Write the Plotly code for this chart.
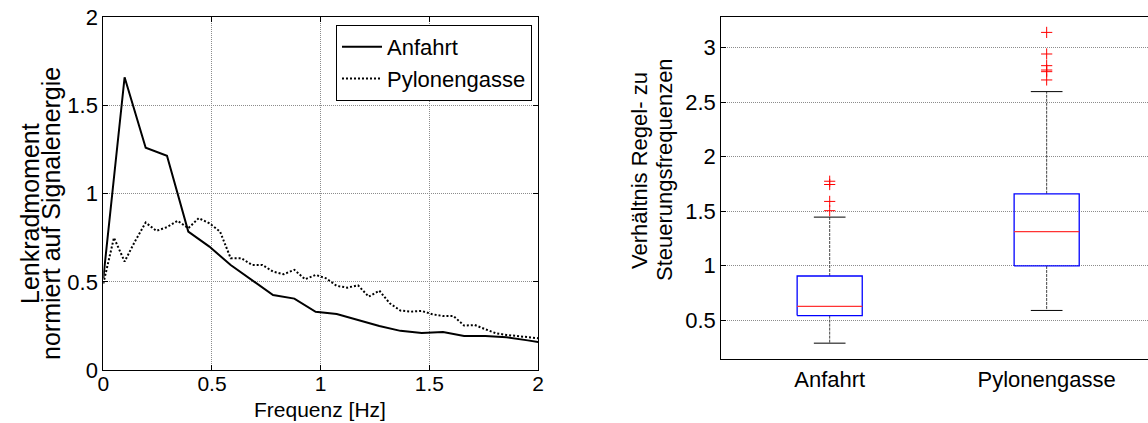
import plotly.graph_objects as go

# ---- spectrum data (left panel) ----
freq_anfahrt = [0.0, 0.098, 0.195, 0.293, 0.391, 0.488, 0.586, 0.684, 0.781, 0.879, 0.977,
                1.074, 1.172, 1.270, 1.367, 1.465, 1.563, 1.660, 1.758, 1.855, 1.953, 2.051]
moment_anfahrt = [0.52, 1.66, 1.26, 1.215, 0.785, 0.70, 0.595, 0.51, 0.425, 0.405, 0.33,
                  0.318, 0.285, 0.25, 0.222, 0.21, 0.216, 0.193, 0.193, 0.186, 0.168, 0.148]

freq_pylon = [0.0, 0.049, 0.098, 0.146, 0.195, 0.244, 0.293, 0.342, 0.391, 0.439, 0.488,
              0.537, 0.586, 0.635, 0.684, 0.732, 0.781, 0.830, 0.879, 0.928, 0.977, 1.025,
              1.074, 1.123, 1.172, 1.221, 1.270, 1.318, 1.367, 1.416, 1.465, 1.514, 1.563,
              1.611, 1.660, 1.709, 1.758, 1.807, 1.855, 1.904, 1.953, 2.002]
moment_pylon = [0.49, 0.75, 0.615, 0.73, 0.836, 0.789, 0.81, 0.846, 0.804, 0.861, 0.832,
                0.785, 0.634, 0.634, 0.596, 0.596, 0.558, 0.543, 0.568, 0.515, 0.539, 0.52,
                0.477, 0.467, 0.48, 0.416, 0.45, 0.378, 0.337, 0.331, 0.335, 0.316, 0.306,
                0.306, 0.252, 0.255, 0.231, 0.208, 0.199, 0.193, 0.184, 0.18]

# ---- box plot statistics (right panel) ----
groups = ["Anfahrt", "Pylonengasse"]
lower_whisker = [0.29, 0.59]
q1 = [0.543, 0.998]
median = [0.628, 1.312]
q3 = [0.906, 1.66]
upper_whisker = [1.446, 2.597]
outliers = [
    [1.775, 1.745, 1.59, 1.505],
    [3.14, 2.942, 2.835, 2.795, 2.78, 2.704],
]

FONT = "Liberation Sans, Arial, Helvetica, sans-serif"
W, H = 1148, 423


def px_x(p):
    return p / W


def px_y(p):
    return 1 - p / H


fig = go.Figure()

# left panel lines
fig.add_trace(go.Scatter(x=freq_anfahrt, y=moment_anfahrt, mode="lines", name="Anfahrt",
                         line=dict(color="black", width=2), xaxis="x", yaxis="y"))
fig.add_trace(go.Scatter(x=freq_pylon, y=moment_pylon, mode="lines", name="Pylonengasse",
                         line=dict(color="black", width=2, dash="2px,2px"), xaxis="x", yaxis="y"))

# right panel: box plots built from the statistics
box_half = 0.15
cap_half = 0.073
for i, g in enumerate(groups):
    pos = i + 1
    # whiskers (dashed)
    fig.add_trace(go.Scatter(
        x=[pos, pos, None, pos, pos],
        y=[q3[i], upper_whisker[i], None, q1[i], lower_whisker[i]],
        mode="lines", line=dict(color="#444444", width=1, dash="3px,1px"),
        showlegend=False, hoverinfo="skip", xaxis="x2", yaxis="y2"))
    # whisker caps
    fig.add_trace(go.Scatter(
        x=[pos - cap_half, pos + cap_half, None, pos - cap_half, pos + cap_half],
        y=[upper_whisker[i], upper_whisker[i], None, lower_whisker[i], lower_whisker[i]],
        mode="lines", line=dict(color="black", width=1),
        showlegend=False, hoverinfo="skip", xaxis="x2", yaxis="y2"))
    # box
    fig.add_trace(go.Scatter(
        x=[pos - box_half, pos + box_half, pos + box_half, pos - box_half, pos - box_half],
        y=[q1[i], q1[i], q3[i], q3[i], q1[i]],
        mode="lines", line=dict(color="#0000ff", width=1.3),
        showlegend=False, hoverinfo="skip", xaxis="x2", yaxis="y2"))
    # median
    fig.add_trace(go.Scatter(
        x=[pos - box_half, pos + box_half], y=[median[i], median[i]],
        mode="lines", line=dict(color="#ff3333", width=1.3),
        showlegend=False, hoverinfo="skip", xaxis="x2", yaxis="y2"))
    # outliers
    fig.add_trace(go.Scatter(
        x=[pos] * len(outliers[i]), y=outliers[i], mode="markers",
        marker=dict(symbol="cross-thin", size=8, line=dict(color="#ff0000", width=1)),
        showlegend=False, hoverinfo="skip", xaxis="x2", yaxis="y2"))

grid_style = dict(showgrid=True, gridcolor="#8c8c8c", griddash="1px,1px", gridwidth=1)
common = dict(automargin=False, zeroline=False, linecolor="black", linewidth=1,
              showline=True, tickcolor="black")

fig.update_layout(
    width=W, height=H,
    margin=dict(l=0, r=0, t=0, b=0, autoexpand=False),
    paper_bgcolor="white", plot_bgcolor="white",
    font=dict(family=FONT, size=22, color="black"),
    showlegend=True,
    legend=dict(x=px_x(532), y=px_y(25), xanchor="right", yanchor="top",
                bgcolor="white", bordercolor="black", borderwidth=1,
                font=dict(size=22), tracegroupgap=0, itemwidth=40),
    xaxis=dict(domain=[px_x(103.3), px_x(538)], range=[0, 2], tickvals=[0, 0.5, 1, 1.5, 2],
               ticktext=["0", "0.5", "1", "1.5", "2"], mirror="ticks",
               ticks="inside", ticklen=5, ticklabelstandoff=-5, tickfont=dict(size=21),
               **grid_style, **common, anchor="y"),
    yaxis=dict(domain=[px_y(370), px_y(17.3)], range=[0, 2], tickvals=[0, 0.5, 1, 1.5, 2],
               ticktext=["0", "0.5", "1", "1.5", "2"], mirror="ticks", tickfont=dict(size=22),
               ticks="inside", ticklen=5, **grid_style, **common, anchor="x"),
    xaxis2=dict(domain=[px_x(721.2), 1.0], range=[0.5, 2.467], tickvals=[1, 2],
                ticktext=groups, mirror=True, tickfont=dict(size=22),
                ticks="", showgrid=False, **common, anchor="y2"),
    yaxis2=dict(domain=[px_y(359.3), px_y(16.7)], range=[0.142, 3.284],
                tickvals=[0.5, 1, 1.5, 2, 2.5, 3], tickfont=dict(size=22),
                ticktext=["0.5", "1", "1.5", "2", "2.5", "3"], mirror=False,
                ticks="inside", ticklen=5, **grid_style, **common, anchor="x2"),
)

annotations = [
    dict(text="Frequenz [Hz]", x=px_x(320), y=0, yanchor="bottom", font=dict(size=21)),
    dict(text="Lenkradmoment", x=px_x(30), y=px_y(214), textangle=-90, font=dict(size=25)),
    dict(text="normiert auf Signalenergie", x=px_x(51), y=px_y(214), textangle=-90,
         font=dict(size=25)),
    dict(text="Verhältnis Regel- zu", x=px_x(639), y=px_y(171), textangle=-90,
         font=dict(size=22)),
    dict(text="Steuerungsfrequenzen", x=px_x(664), y=px_y(170), textangle=-90,
         font=dict(size=22)),
]
for a in annotations:
    a.setdefault("yanchor", "middle")
    a.update(xref="paper", yref="paper", showarrow=False, xanchor="center")
fig.update_layout(annotations=annotations)

fig.write_html("out.html")
